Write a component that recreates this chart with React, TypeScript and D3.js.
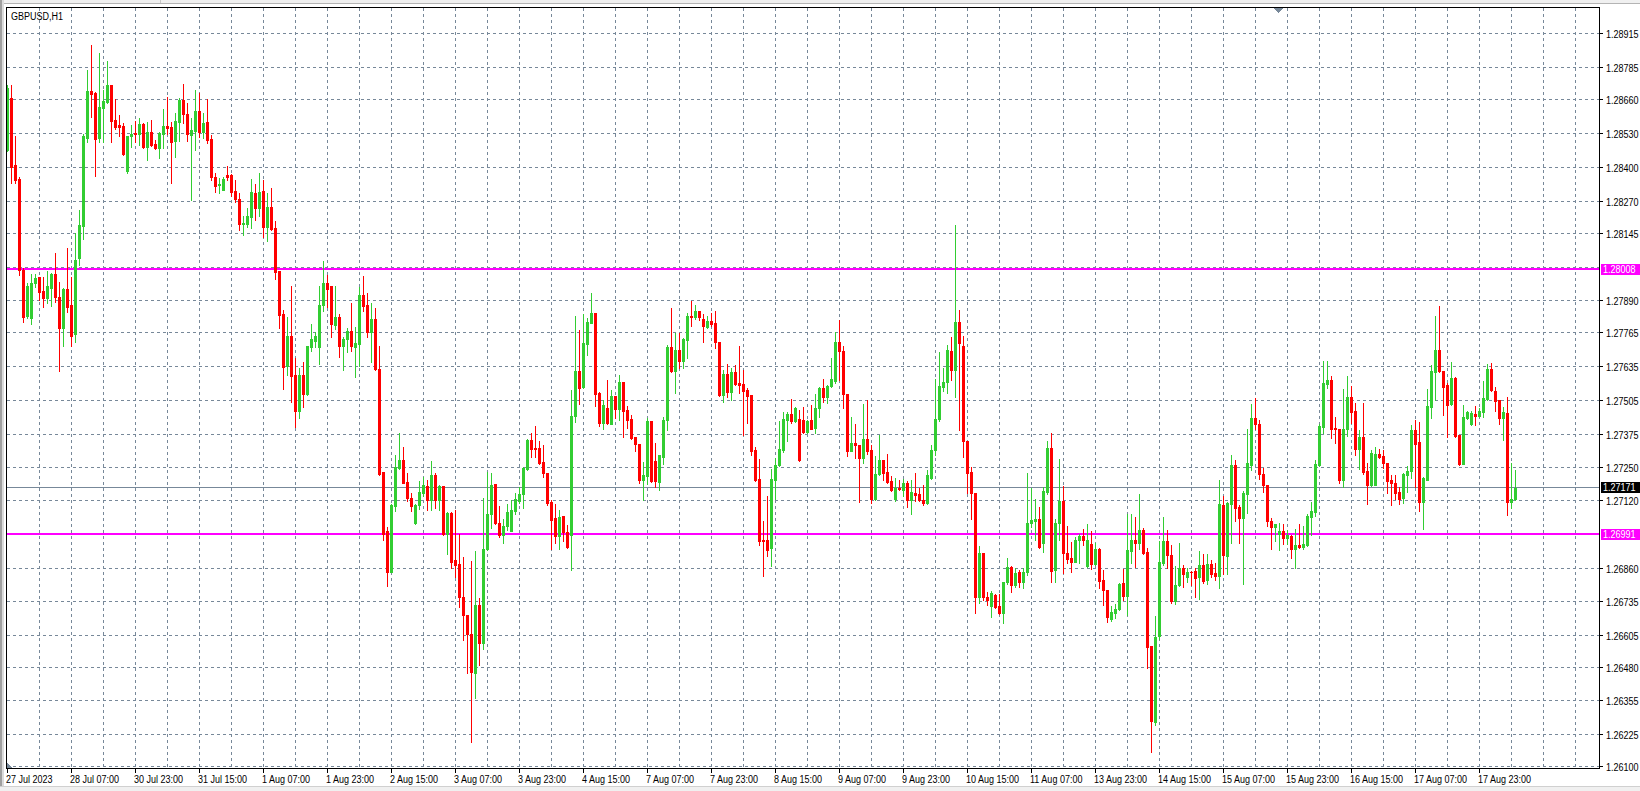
import React from 'react';
import * as d3 from 'd3';

// GBPUSD H1, 27 Jul 2023 15:00 .. 18 Aug 2023 (one bar per hour)
const SYMBOL = 'GBPUSD,H1';

const opens = [
  1.28467,1.28668,1.28410,1.28356,1.28007,1.27831,1.27824,1.27955,1.27978,1.27926,
  1.27898,1.27939,1.27991,1.27902,1.27785,1.27934,1.27872,1.27760,1.28054,1.28177,
  1.28515,1.28694,1.28685,1.28515,1.28630,1.28653,1.28717,1.28583,1.28563,1.28560,
  1.28387,1.28519,1.28531,1.28527,1.28567,1.28480,1.28535,1.28490,1.28473,1.28529,
  1.28561,1.28557,1.28502,1.28576,1.28658,1.28606,1.28525,1.28542,1.28617,1.28538,
  1.28575,1.28508,1.28365,1.28334,1.28314,1.28371,1.28371,1.28310,1.28279,1.28183,
  1.28183,1.28211,1.28303,1.28244,1.28308,1.28173,1.28248,1.28169,1.28003,1.27837,
  1.27638,1.27753,1.27603,1.27466,1.27603,1.27529,1.27712,1.27735,1.27712,1.27872,
  1.27958,1.27945,1.27795,1.27826,1.27716,1.27740,1.27772,1.27712,1.27722,1.27910,
  1.27872,1.27770,1.27818,1.27625,1.27231,1.27004,1.26848,1.27100,1.27247,1.27277,
  1.27194,1.27130,1.27036,1.27104,1.27151,1.27177,1.27123,1.27219,1.27123,1.27178,
  1.26993,1.27075,1.26893,1.26877,1.26750,1.26682,1.26611,1.26460,1.26720,1.26575,
  1.26934,1.27069,1.27185,1.27034,1.26989,1.27025,1.27005,1.27082,1.27121,1.27146,
  1.27241,1.27354,1.27322,1.27322,1.27270,1.27228,1.27117,1.27053,1.26985,1.27062,
  1.26999,1.26989,1.27446,1.27619,1.27559,1.27721,1.27804,1.27840,1.27533,1.27420,
  1.27475,1.27417,1.27523,1.27473,1.27578,1.27469,1.27433,1.27364,1.27338,1.27200,
  1.27217,1.27427,1.27274,1.27194,1.27290,1.27431,1.27712,1.27620,1.27699,1.27658,
  1.27738,1.27830,1.27827,1.27849,1.27818,1.27789,1.27811,1.27804,1.27731,1.27527,
  1.27607,1.27539,1.27614,1.27571,1.27569,1.27546,1.27527,1.27315,1.27204,1.26970,
  1.26970,1.26940,1.27202,1.27257,1.27315,1.27430,1.27453,1.27426,1.27434,1.27430,
  1.27385,1.27430,1.27400,1.27477,1.27554,1.27519,1.27560,1.27581,1.27731,1.27696,
  1.27532,1.27312,1.27344,1.27334,1.27285,1.27357,1.27315,1.27126,1.27222,1.27276,
  1.27231,1.27196,1.27126,1.27170,1.27161,1.27189,1.27123,1.27151,1.27146,1.27123,
  1.27112,1.27208,1.27315,1.27434,1.27558,1.27577,1.27695,1.27622,1.27807,1.27715,
  1.27350,1.27230,1.27149,1.26750,1.26919,1.26752,1.26716,1.26759,1.26716,1.26688,
  1.26807,1.26865,1.26797,1.26846,1.26810,1.26848,1.27034,1.27044,1.27050,1.26960,
  1.27153,1.27322,1.26855,1.27034,1.27121,1.26922,1.26902,1.26887,1.26970,1.26985,
  1.26870,1.26953,1.26878,1.26934,1.26816,1.26780,1.26666,1.26691,1.26704,1.26804,
  1.26756,1.26929,1.26972,1.26960,1.27008,1.26925,1.26562,1.26272,1.26600,1.26882,
  1.26966,1.26912,1.26736,1.26797,1.26864,1.26829,1.26848,1.26850,1.26829,1.26873,
  1.26816,1.26877,1.26844,1.26831,1.27104,1.26908,1.27110,1.27257,1.27097,1.27055,
  1.27146,1.27257,1.27440,1.27417,1.27225,1.27183,1.27044,1.27021,1.26995,1.27004,
  1.26976,1.26985,1.26934,1.26949,1.26943,1.26951,1.27059,1.27078,1.27257,1.27402,
  1.27567,1.27584,1.27401,1.27398,1.27200,1.27398,1.27519,1.27464,1.27318,1.27366,
  1.27234,1.27180,1.27180,1.27299,1.27293,1.27267,1.27199,1.27190,1.27155,1.27133,
  1.27221,1.27234,1.27391,1.27347,1.27116,1.27202,1.27481,1.27615,1.27699,1.27619,
  1.27564,1.27491,1.27592,1.27372,1.27261,1.27439,1.27414,1.27453,1.27445,1.27462,
  1.27513,1.27628,1.27541,1.27509,1.27439,1.27459,1.27116,1.27129,
];

const highs = [
  1.28717,1.28717,1.28519,1.28365,1.28013,1.27955,1.27990,1.27990,1.27978,1.27978,
  1.28003,1.27996,1.28071,1.27962,1.27939,1.28090,1.27978,1.28147,1.28237,1.28528,
  1.28775,1.28871,1.28688,1.28841,1.28698,1.28809,1.28717,1.28663,1.28602,1.28569,
  1.28521,1.28563,1.28579,1.28589,1.28570,1.28576,1.28583,1.28506,1.28538,1.28625,
  1.28671,1.28574,1.28608,1.28668,1.28721,1.28648,1.28589,1.28698,1.28685,1.28608,
  1.28663,1.28525,1.28378,1.28358,1.28365,1.28406,1.28374,1.28352,1.28301,1.28214,
  1.28243,1.28356,1.28337,1.28378,1.28352,1.28301,1.28321,1.28195,1.28003,1.27853,
  1.27827,1.27945,1.27670,1.27631,1.27652,1.27715,1.27799,1.27767,1.27945,1.28041,
  1.27987,1.27945,1.27945,1.27837,1.27750,1.27785,1.27881,1.27789,1.27940,1.27983,
  1.27920,1.27881,1.27862,1.27716,1.27231,1.27021,1.27108,1.27296,1.27379,1.27328,
  1.27226,1.27149,1.27108,1.27197,1.27213,1.27200,1.27273,1.27229,1.27181,1.27178,
  1.27079,1.27079,1.27085,1.26993,1.26906,1.26682,1.26889,1.26927,1.26746,1.27133,
  1.27232,1.27229,1.27185,1.27100,1.27049,1.27108,1.27123,1.27149,1.27172,1.27251,
  1.27356,1.27379,1.27409,1.27350,1.27334,1.27228,1.27123,1.27108,1.27087,1.27062,
  1.27027,1.27546,1.27830,1.27776,1.27836,1.27821,1.27917,1.27840,1.27539,1.27507,
  1.27584,1.27546,1.27523,1.27603,1.27578,1.27486,1.27450,1.27364,1.27338,1.27268,
  1.27437,1.27427,1.27344,1.27296,1.27443,1.27719,1.27862,1.27763,1.27763,1.27747,
  1.27840,1.27888,1.27872,1.27849,1.27836,1.27830,1.27840,1.27849,1.27731,1.27623,
  1.27646,1.27632,1.27642,1.27715,1.27623,1.27552,1.27527,1.27326,1.27281,1.27043,
  1.27140,1.27242,1.27286,1.27426,1.27462,1.27462,1.27510,1.27481,1.27468,1.27481,
  1.27430,1.27490,1.27530,1.27558,1.27587,1.27564,1.27667,1.27769,1.27814,1.27715,
  1.27532,1.27443,1.27417,1.27334,1.27494,1.27507,1.27334,1.27293,1.27375,1.27276,
  1.27299,1.27215,1.27210,1.27199,1.27206,1.27197,1.27199,1.27228,1.27170,1.27180,
  1.27238,1.27336,1.27590,1.27692,1.27631,1.27720,1.27750,1.28179,1.27852,1.27754,
  1.27350,1.27251,1.27151,1.26947,1.26922,1.26771,1.26775,1.26762,1.26762,1.26810,
  1.26902,1.26870,1.26861,1.26855,1.26861,1.27226,1.27168,1.27126,1.27095,1.27172,
  1.27351,1.27379,1.27049,1.27280,1.27177,1.27024,1.26963,1.26980,1.26993,1.27011,
  1.27031,1.27004,1.26957,1.26938,1.26855,1.26780,1.26716,1.26724,1.26806,1.26858,
  1.27070,1.27070,1.27059,1.27145,1.27015,1.26938,1.26562,1.26678,1.26967,1.27059,
  1.27008,1.26950,1.26870,1.26960,1.26873,1.26861,1.26852,1.26864,1.26927,1.26918,
  1.26916,1.26893,1.26880,1.27200,1.27140,1.27117,1.27296,1.27277,1.27104,1.27160,
  1.27398,1.27494,1.27517,1.27430,1.27248,1.27183,1.27053,1.27033,1.27036,1.27031,
  1.27008,1.26988,1.27013,1.27033,1.27023,1.27069,1.27117,1.27279,1.27415,1.27657,
  1.27657,1.27599,1.27443,1.27398,1.27548,1.27599,1.27560,1.27496,1.27391,1.27496,
  1.27266,1.27317,1.27327,1.27321,1.27315,1.27267,1.27219,1.27219,1.27174,1.27228,
  1.27253,1.27411,1.27430,1.27423,1.27212,1.27551,1.27641,1.27829,1.27868,1.27619,
  1.27573,1.27654,1.27596,1.27372,1.27487,1.27464,1.27464,1.27484,1.27475,1.27581,
  1.27647,1.27650,1.27558,1.27509,1.27481,1.27519,1.27266,1.27238,
];

const lows = [
  1.28464,1.28339,1.28339,1.27987,1.27808,1.27821,1.27798,1.27943,1.27891,1.27866,
  1.27881,1.27870,1.27885,1.27620,1.27716,1.27847,1.27716,1.27729,1.28026,1.28124,
  1.28499,1.28592,1.28369,1.28499,1.28499,1.28647,1.28499,1.28547,1.28522,1.28448,
  1.28380,1.28480,1.28497,1.28487,1.28474,1.28429,1.28483,1.28470,1.28435,1.28474,
  1.28527,1.28342,1.28442,1.28502,1.28572,1.28502,1.28275,1.28467,1.28518,1.28512,
  1.28495,1.28352,1.28307,1.28303,1.28314,1.28352,1.28291,1.28269,1.28160,1.28141,
  1.28173,1.28169,1.28198,1.28214,1.28132,1.28119,1.28160,1.27972,1.27785,1.27549,
  1.27603,1.27498,1.27402,1.27439,1.27482,1.27526,1.27697,1.27712,1.27645,1.27850,
  1.27866,1.27750,1.27780,1.27674,1.27622,1.27693,1.27697,1.27597,1.27638,1.27850,
  1.27750,1.27654,1.27622,1.27219,1.26970,1.26794,1.26848,1.27082,1.27244,1.27187,
  1.27119,1.27081,1.27033,1.27090,1.27139,1.27087,1.27087,1.27094,1.27087,1.26989,
  1.26916,1.26861,1.26829,1.26714,1.26588,1.26458,1.26195,1.26365,1.26492,1.26550,
  1.26931,1.27018,1.27031,1.26982,1.26957,1.27008,1.27004,1.27069,1.27113,1.27094,
  1.27238,1.27287,1.27287,1.27262,1.27213,1.27104,1.26934,1.26957,1.26934,1.26967,
  1.26938,1.26854,1.27424,1.27492,1.27555,1.27680,1.27802,1.27486,1.27409,1.27396,
  1.27417,1.27415,1.27437,1.27431,1.27364,1.27401,1.27358,1.27313,1.27187,1.27122,
  1.27185,1.27194,1.27175,1.27162,1.27262,1.27392,1.27614,1.27536,1.27632,1.27629,
  1.27670,1.27792,1.27817,1.27815,1.27731,1.27783,1.27793,1.27708,1.27524,1.27501,
  1.27520,1.27507,1.27565,1.27533,1.27373,1.27420,1.27296,1.27196,1.26951,1.26833,
  1.26910,1.26871,1.27129,1.27254,1.27306,1.27349,1.27421,1.27423,1.27272,1.27382,
  1.27382,1.27398,1.27381,1.27443,1.27500,1.27496,1.27558,1.27573,1.27583,1.27477,
  1.27293,1.27310,1.27285,1.27116,1.27266,1.27299,1.27114,1.27122,1.27219,1.27199,
  1.27189,1.27157,1.27119,1.27161,1.27139,1.27097,1.27071,1.27120,1.27120,1.27106,
  1.27110,1.27206,1.27298,1.27426,1.27541,1.27535,1.27583,1.27519,1.27391,1.27290,
  1.27149,1.27049,1.26688,1.26727,1.26739,1.26720,1.26675,1.26710,1.26686,1.26652,
  1.26801,1.26771,1.26788,1.26791,1.26784,1.26835,1.27021,1.26970,1.26938,1.26925,
  1.27145,1.26810,1.26810,1.26970,1.26842,1.26880,1.26848,1.26885,1.26880,1.26951,
  1.26867,1.26857,1.26874,1.26784,1.26720,1.26656,1.26660,1.26669,1.26701,1.26739,
  1.26682,1.26883,1.26867,1.26934,1.26918,1.26477,1.26157,1.26260,1.26590,1.26873,
  1.26861,1.26729,1.26724,1.26793,1.26788,1.26809,1.26797,1.26752,1.26742,1.26806,
  1.26803,1.26829,1.26816,1.26784,1.26841,1.26839,1.26957,1.27044,1.26957,1.26803,
  1.27072,1.27238,1.27398,1.27206,1.27155,1.27023,1.26934,1.26967,1.26931,1.26954,
  1.26954,1.26902,1.26861,1.26940,1.26934,1.26947,1.26989,1.27062,1.27254,1.27379,
  1.27552,1.27360,1.27341,1.27190,1.27174,1.27368,1.27420,1.27295,1.27242,1.27222,
  1.27110,1.27176,1.27180,1.27286,1.27248,1.27151,1.27106,1.27129,1.27110,1.27114,
  1.27155,1.27210,1.27174,1.27082,1.27014,1.27200,1.27440,1.27507,1.27615,1.27449,
  1.27366,1.27487,1.27366,1.27257,1.27261,1.27436,1.27411,1.27413,1.27443,1.27443,
  1.27507,1.27541,1.27466,1.27417,1.27353,1.27065,1.27093,1.27125,
];

const closes = [
  1.28704,1.28403,1.28352,1.28007,1.27827,1.27946,1.27958,1.27975,1.27923,1.27898,
  1.27945,1.27991,1.27904,1.27785,1.27934,1.27866,1.27754,1.28045,1.28179,1.28521,
  1.28694,1.28682,1.28508,1.28634,1.28657,1.28717,1.28579,1.28557,1.28556,1.28452,
  1.28521,1.28530,1.28527,1.28567,1.28480,1.28538,1.28487,1.28474,1.28533,1.28561,
  1.28553,1.28499,1.28579,1.28659,1.28604,1.28529,1.28544,1.28617,1.28538,1.28572,
  1.28506,1.28365,1.28330,1.28337,1.28356,1.28365,1.28307,1.28279,1.28183,1.28188,
  1.28214,1.28306,1.28244,1.28306,1.28173,1.28248,1.28164,1.28000,1.27834,1.27635,
  1.27753,1.27601,1.27466,1.27603,1.27532,1.27715,1.27741,1.27753,1.27872,1.27958,
  1.27935,1.27799,1.27826,1.27716,1.27741,1.27772,1.27716,1.27725,1.27910,1.27869,
  1.27770,1.27818,1.27625,1.27223,1.26995,1.26848,1.27104,1.27249,1.27277,1.27190,
  1.27133,1.27101,1.27104,1.27155,1.27181,1.27123,1.27219,1.27123,1.27178,1.26993,
  1.27075,1.26886,1.26874,1.26750,1.26682,1.26609,1.26464,1.26720,1.26575,1.26934,
  1.27069,1.27181,1.27034,1.26989,1.27025,1.27076,1.27087,1.27126,1.27146,1.27245,
  1.27354,1.27319,1.27319,1.27267,1.27228,1.27113,1.27046,1.26985,1.27057,1.26999,
  1.26944,1.27446,1.27620,1.27555,1.27725,1.27808,1.27840,1.27530,1.27420,1.27488,
  1.27420,1.27523,1.27473,1.27575,1.27466,1.27431,1.27360,1.27338,1.27200,1.27219,
  1.27427,1.27196,1.27196,1.27296,1.27431,1.27712,1.27620,1.27699,1.27658,1.27742,
  1.27830,1.27827,1.27849,1.27827,1.27793,1.27811,1.27799,1.27729,1.27527,1.27607,
  1.27539,1.27614,1.27569,1.27565,1.27542,1.27524,1.27313,1.27200,1.26967,1.26967,
  1.26931,1.27203,1.27257,1.27321,1.27434,1.27453,1.27426,1.27477,1.27276,1.27385,
  1.27426,1.27398,1.27478,1.27554,1.27519,1.27560,1.27587,1.27731,1.27696,1.27530,
  1.27312,1.27344,1.27334,1.27285,1.27357,1.27312,1.27126,1.27222,1.27276,1.27229,
  1.27193,1.27161,1.27171,1.27164,1.27187,1.27123,1.27155,1.27144,1.27123,1.27112,
  1.27219,1.27315,1.27436,1.27560,1.27577,1.27699,1.27622,1.27807,1.27728,1.27350,
  1.27228,1.27149,1.26752,1.26922,1.26750,1.26739,1.26765,1.26714,1.26691,1.26807,
  1.26865,1.26797,1.26842,1.26810,1.26846,1.27034,1.27047,1.27050,1.26942,1.27158,
  1.27322,1.26852,1.27034,1.27121,1.26922,1.26897,1.26887,1.26972,1.26985,1.26970,
  1.26970,1.26878,1.26934,1.26814,1.26780,1.26673,1.26692,1.26704,1.26801,1.26756,
  1.26931,1.26972,1.26960,1.27008,1.26921,1.26560,1.26276,1.26599,1.26886,1.26966,
  1.26914,1.26736,1.26797,1.26861,1.26838,1.26848,1.26847,1.26825,1.26873,1.26813,
  1.26877,1.26841,1.26831,1.27108,1.26912,1.27113,1.27257,1.27094,1.27055,1.27149,
  1.27264,1.27440,1.27417,1.27225,1.27181,1.27044,1.27021,1.27031,1.27004,1.26979,
  1.26988,1.26936,1.26949,1.26943,1.26956,1.27063,1.27081,1.27261,1.27407,1.27574,
  1.27584,1.27396,1.27396,1.27200,1.27398,1.27519,1.27462,1.27318,1.27366,1.27231,
  1.27180,1.27304,1.27299,1.27289,1.27266,1.27196,1.27189,1.27151,1.27126,1.27225,
  1.27234,1.27391,1.27338,1.27116,1.27208,1.27484,1.27618,1.27699,1.27619,1.27558,
  1.27487,1.27592,1.27368,1.27261,1.27443,1.27461,1.27458,1.27448,1.27464,1.27516,
  1.27628,1.27545,1.27504,1.27439,1.27462,1.27116,1.27129,1.27171,
];

const priceTicks = [
  '1.28915','1.28785','1.28660','1.28530','1.28400','1.28270','1.28145','1.28015',
  '1.27890','1.27765','1.27635','1.27505','1.27375','1.27250','1.27120','1.26990',
  '1.26860','1.26735','1.26605','1.26480','1.26355','1.26225','1.26100',
];

// one label every 16 bars, starting at the first bar
const timeLabels = [
  '27 Jul 2023','28 Jul 07:00','30 Jul 23:00','31 Jul 15:00','1 Aug 07:00','1 Aug 23:00',
  '2 Aug 15:00','3 Aug 07:00','3 Aug 23:00','4 Aug 15:00','7 Aug 07:00','7 Aug 23:00',
  '8 Aug 15:00','9 Aug 07:00','9 Aug 23:00','10 Aug 15:00','11 Aug 07:00','13 Aug 23:00',
  '14 Aug 15:00','15 Aug 07:00','15 Aug 23:00','16 Aug 15:00','17 Aug 07:00','17 Aug 23:00',
];

const levelLines = [1.28008, 1.26991];
const bidPrice = 1.27171;

const W = 1640;
const H = 791;
const L = 6.5, T = 7.5, R = 1599.5, B = 768.5;
const UP = '#32CD32';
const DOWN = '#FF0000';
const GRID = '#778899';
const MAGENTA = '#FF00FF';
const FONT = '"Liberation Sans", Arial, sans-serif';

const Label: React.FC<{ x: number; y: number; fill?: string; children: React.ReactNode }> = ({ x, y, fill = '#000', children }) => (
  <text transform={`translate(${x},${y}) scale(0.82,1)`} fontSize={11} fontFamily={FONT} fill={fill}>
    {children}
  </text>
);

const App: React.FC = () => {
  const x = d3.scaleLinear().domain([0, 1]).range([7.5, 11.5]);
  const y = d3.scaleLinear().domain([1.261, 1.28915]).range([766.67, 33.33]);

  const lastGridBar = Math.floor((R - 7.5) / 4);
  const vGrid = d3.range(8, lastGridBar + 1, 8);
  const row = (p: number) => Math.floor(y(p)) + 0.5;

  const tagged = [...levelLines, bidPrice];
  const visibleTicks = priceTicks.filter(t => tagged.every(p => Math.abs(y(+t) - y(p)) > 9));

  return (
    <svg width={W} height={H} style={{ position: 'absolute', left: 0, top: 0, display: 'block' }} shapeRendering="crispEdges">
      <defs>
        <clipPath id="plot">
          <rect x={7} y={8} width={R - 7.5} height={B - 8.5} />
        </clipPath>
      </defs>
      <rect x={0} y={0} width={W} height={H} fill="#fff" />

      {/* window chrome */}
      <rect x={0} y={0} width={W} height={4} fill="#f0f0f0" />
      <line x1={0} x2={W} y1={3.5} y2={3.5} stroke="#b4b4b4" />
      <line x1={160.5} x2={160.5} y1={0} y2={3} stroke="#c8c8c8" />
      <rect x={0} y={0} width={2} height={H} fill="#a0a0a0" />
      <rect x={2} y={0} width={2} height={H} fill="#dadada" />
      <rect x={0} y={786} width={W} height={5} fill="#f0f0f0" />
      <line x1={0} x2={W} y1={786.5} y2={786.5} stroke="#d0d0d0" />

      {/* grid */}
      <g stroke={GRID} strokeDasharray="3,3">
        {priceTicks.map(t => (
          <line key={t} x1={L} x2={R} y1={row(+t)} y2={row(+t)} />
        ))}
        {vGrid.map(i => (
          <line key={i} x1={x(i)} x2={x(i)} y1={T} y2={B} />
        ))}
      </g>

      {/* horizontal levels and bid line */}
      <line x1={L} x2={R} y1={row(bidPrice)} y2={row(bidPrice)} stroke={GRID} />
      {levelLines.map(p => (
        <rect key={p} x={L} y={Math.floor(y(p)) - 1} width={R - L} height={2} fill={MAGENTA} />
      ))}

      {/* candles */}
      <g clipPath="url(#plot)">
        {closes.map((c, i) => {
          const o = opens[i];
          const color = c >= o ? UP : DOWN;
          const cx = x(i);
          const top = Math.round(y(Math.max(o, c)));
          const bot = Math.round(y(Math.min(o, c)));
          const hi = Math.round(y(highs[i]));
          const lo = Math.round(y(lows[i]));
          return (
            <g key={i} fill={color}>
              <rect x={cx - 0.5} y={hi} width={1} height={Math.max(1, lo - hi + 1)} />
              <rect x={cx - 1.5} y={top} width={3} height={Math.max(1, bot - top + 1)} />
            </g>
          );
        })}
      </g>

      {/* frame */}
      <rect x={L} y={T} width={R - L} height={B - T} fill="none" stroke="#000" />
      <polygon points="1274,8 1283,8 1278.5,13" fill={GRID} />
      <polygon points="7,763 7,768 12,768" fill={GRID} />

      {/* price axis */}
      {visibleTicks.map(t => (
        <g key={t}>
          <line x1={R} x2={R + 3} y1={row(+t)} y2={row(+t)} stroke="#000" />
          <Label x={1606} y={row(+t) + 4}>{t}</Label>
        </g>
      ))}
      {levelLines.map(p => (
        <g key={p}>
          <rect x={1601} y={Math.floor(y(p)) - 5} width={39} height={11} fill={MAGENTA} />
          <Label x={1603} y={Math.floor(y(p)) + 4} fill="#fff">{p.toFixed(5)}</Label>
        </g>
      ))}
      <rect x={1601} y={Math.floor(y(bidPrice)) - 5} width={39} height={11} fill="#000" />
      <Label x={1603} y={Math.floor(y(bidPrice)) + 4} fill="#fff">{bidPrice.toFixed(5)}</Label>

      {/* time axis */}
      {timeLabels.map((t, j) => (
        <g key={t}>
          <line x1={x(16 * j)} x2={x(16 * j)} y1={B} y2={B + 4} stroke="#000" />
          <Label x={x(16 * j) - 1.5} y={782.5}>{t}</Label>
        </g>
      ))}

      <Label x={11} y={19.5}>{SYMBOL}</Label>
    </svg>
  );
};

export default App;
